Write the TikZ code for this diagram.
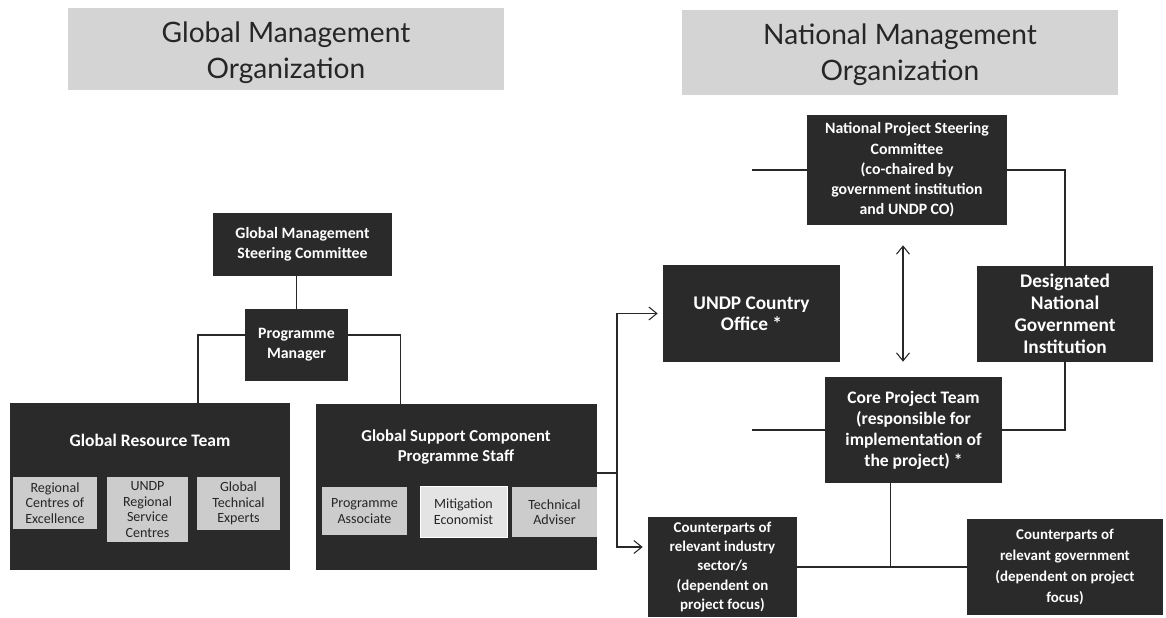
\documentclass[tikz,border=0pt]{standalone}
\usepackage{fontspec}
\setmainfont{Carlito}
\newfontfamily\titlefont{Lato}
\usepackage{tikz}
\usetikzlibrary{arrows.meta,positioning,calc}
\usepackage{xcolor}
\definecolor{boxdark}{RGB}{42,42,42}
\definecolor{boxlight}{RGB}{204,204,204}
\definecolor{boxpale}{RGB}{228,228,228}
\definecolor{bannergray}{RGB}{212,212,212}
\definecolor{linegray}{RGB}{40,40,40}

\begin{document}
\begin{tikzpicture}[
    x=0.02cm, y=-0.02cm,
    banner/.style={fill=bannergray, inner sep=0pt},
    bannertxt/.style={font=\titlefont\fontsize{16}{20.5}\selectfont, text=black!85, align=center},
    darkbox/.style={fill=boxdark, text=white, align=center, inner sep=1pt, font=\bfseries\fontsize{9}{11.5}\selectfont},
    subbox/.style={fill=boxlight, text=black!85, align=center, inner sep=1pt, font=\fontsize{8}{8.8}\selectfont},
    conn/.style={draw=linegray, line width=0.6pt},
    arr/.style={conn, -{Straight Barb[length=1.6mm,width=2.6mm]}, shorten >=1mm}
]
\useasboundingbox (0,0) rectangle (1166,618);

% Headings
\node[banner, minimum width=8.72cm, minimum height=1.64cm] (gban) at (286,49) {};
\node[bannertxt] (gtitle) at (286,53) {Global Management\\Organization};
\node[banner, minimum width=8.72cm, minimum height=1.70cm] (nban) at (900,52.5) {};
\node[bannertxt] (ntitle) at (900,55) {National Management\\Organization};

% Global side
\node[darkbox, minimum width=3.58cm, minimum height=1.26cm] (gmsc) at (302.5,244.5) {Global Management\\Steering Committee};
\node[darkbox, minimum width=2.06cm, minimum height=1.44cm] (pm) at (296.5,345) {Programme\\Manager};

\node[darkbox, minimum width=5.6cm, minimum height=3.34cm] (grt) at (150,486.5) {};
\node[text=white, font=\bfseries\fontsize{10}{12}\selectfont] (grtlbl) at (150,440) {Global Resource Team};
\node[subbox, minimum width=1.68cm, minimum height=1.04cm] (rce) at (55,503) {Regional\\Centres of\\Excellence};
\node[subbox, minimum width=1.62cm, minimum height=1.30cm] (rsc) at (147.5,509.5) {UNDP\\Regional\\Service\\Centres};
\node[subbox, minimum width=1.66cm, minimum height=1.06cm] (gte) at (238.5,503.5) {Global\\Technical\\Experts};

\node[darkbox, minimum width=5.62cm, minimum height=3.32cm] (gsc) at (456.5,487) {};
\node[text=white, align=center, font=\bfseries\fontsize{9.5}{11}\selectfont] (gsclbl) at (456,447) {Global Support Component\\Programme Staff};
\node[subbox, minimum width=1.70cm, minimum height=0.96cm] (pa) at (364.5,511) {Programme\\Associate};
\node[subbox, fill=boxpale, draw=white, minimum width=1.74cm, minimum height=1.02cm] (me) at (463.5,511.5) {Mitigation\\Economist};
\node[subbox, minimum width=1.70cm, minimum height=1.00cm] (ta) at (554.5,512) {Technical\\Adviser};

% National side
\node[darkbox, minimum width=4.0cm, minimum height=2.2cm] (npsc) at (907,170) {National Project Steering\\Committee\\(co-chaired by\\government institution\\and UNDP CO)};
\node[darkbox, font=\bfseries\fontsize{11}{12}\selectfont, minimum width=3.54cm, minimum height=1.94cm] (undp) at (751.5,313.5) {UNDP Country\\Office *};
\node[darkbox, font=\bfseries\fontsize{11}{12.5}\selectfont, minimum width=3.52cm, minimum height=1.92cm] (dngi) at (1065,314) {Designated\\National\\Government\\Institution};
\node[darkbox, font=\bfseries\fontsize{10}{12}\selectfont, minimum width=3.54cm, minimum height=2.12cm] (cpt) at (913.5,430) {Core Project Team\\(responsible for\\implementation of\\the project) *};
\node[darkbox, font=\bfseries\fontsize{8.5}{11}\selectfont, minimum width=2.98cm, minimum height=2.0cm] (cind) at (722.5,567) {Counterparts of\\relevant industry\\sector/s\\(dependent on\\project focus)};
\node[darkbox, font=\bfseries\fontsize{8.5}{12}\selectfont, minimum width=3.92cm, minimum height=1.92cm] (cgov) at (1065,567) {Counterparts of\\relevant government\\(dependent on project\\focus)};

% Connectors, global
\draw[conn] (pm.north) -- (pm.north |- gmsc.south);
\draw[conn] ($(pm.west)+(0,-10)$) -| ($(grt.north)+(48,0)$);
\draw[conn] ($(pm.east)+(0,-10)$) -| ($(gsc.north)+(-56,0)$);

% Connectors, global to national
\coordinate (fork) at (617,473);
\draw[conn] ($(gsc.east)+(0,-14)$) -- (fork);
\draw[arr] (fork) |- (undp.west);
\draw[arr] (fork) |- ($(cind.west)+(0,-20)$);

% Connectors, national
\coordinate (npscend) at (752,170);
\coordinate (cptend) at (752,430);
\draw[conn] (npsc.west) -- (npscend);
\draw[conn] (npsc.east) -| (dngi.north);
\draw[conn, {Straight Barb[length=1.6mm,width=2.6mm]}-{Straight Barb[length=1.6mm,width=2.6mm]}, shorten <=0.4cm, shorten >=0.3cm]
    ($(npsc.south)+(-4,0)$) -- ($(npsc.south |- cpt.north)+(-4,0)$);
\draw[conn] (cpt.west) -- (cptend);
\draw[conn] (cpt.east) -| (dngi.south);
\draw[conn] ($(cpt.south)+(-23,0)$) |- (cind.east);
\draw[conn] (cind.east) -- (cgov.west);
\end{tikzpicture}
\end{document}
